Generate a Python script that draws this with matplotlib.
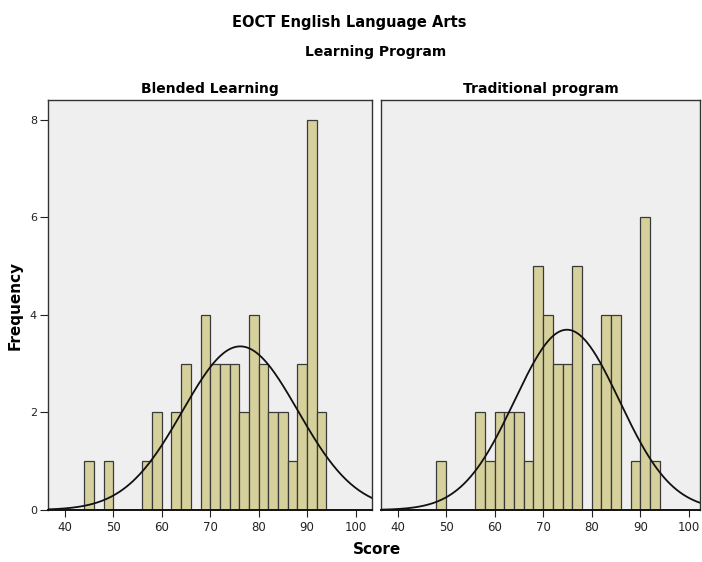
import numpy as np
import matplotlib
matplotlib.use('Agg')
import matplotlib.pyplot as plt

# bins are 2 points wide, left edges
blended_edges = [44, 48, 56, 58, 62, 64, 68, 70, 72, 74, 76, 78, 80, 82, 84, 86, 88, 90, 92]
blended_counts = [1, 1, 1, 2, 2, 3, 4, 3, 3, 3, 2, 4, 3, 2, 2, 1, 3, 8, 2]

trad_edges = [48, 56, 58, 60, 62, 64, 66, 68, 70, 72, 74, 76, 80, 82, 84, 88, 90, 92]
trad_counts = [1, 2, 1, 2, 2, 2, 1, 5, 4, 3, 3, 5, 3, 4, 4, 1, 6, 1]

# normal curve params (mean, sd, N)
blended_fit = (76.2, 11.9, 50)
trad_fit = (74.9, 10.8, 50)

bin_w = 2
bar_col = '#d5d09c'
bg_col = '#efefef'

fig = plt.figure(figsize=(7.02, 5.62), dpi=100)
ax1 = fig.add_axes([48/702, 1-510/562, 324/702, 410/562])
ax2 = fig.add_axes([381/702, 1-510/562, 319/702, 410/562])

panels = [(ax1, blended_edges, blended_counts, blended_fit, 'Blended Learning', (36.5, 103.4)),
          (ax2, trad_edges, trad_counts, trad_fit, 'Traditional program', (36.6, 102.3))]

for ax, edges, counts, fit, name, xl in panels:
    ax.set_facecolor(bg_col)
    ax.bar(edges, counts, width=bin_w, align='edge', color=bar_col,
           edgecolor='#3a3a3a', linewidth=0.9, zorder=2)
    m, s, n = fit
    xs = np.linspace(xl[0], xl[1], 300)
    ys = n * bin_w / (s * np.sqrt(2 * np.pi)) * np.exp(-0.5 * ((xs - m) / s) ** 2)
    ax.plot(xs, ys, color='#111111', lw=1.3, zorder=3)
    ax.set_xlim(*xl)
    ax.set_ylim(0, 8.4)
    ax.set_xticks([40, 50, 60, 70, 80, 90, 100])
    ax.tick_params(axis='x', labelsize=8.5, colors='#222222', length=5, pad=3)
    ax.set_title(name, fontsize=10, fontweight='bold', pad=5)
    for sp in ax.spines.values():
        sp.set_color('#333333')
        sp.set_linewidth(1.0)
    ax.spines['bottom'].set_color('#111111')
    ax.spines['bottom'].set_linewidth(1.4)

ax1.set_yticks([0, 2, 4, 6, 8])
ax1.tick_params(axis='y', labelsize=8, colors='#222222', length=6, pad=2)
ax2.set_yticks([])

fig.text(0.497, 1 - 22/562, 'EOCT English Language Arts', ha='center', va='center',
         fontsize=10.5, fontweight='bold')
fig.text(0.535, 1 - 52/562, 'Learning Program', ha='center', va='center',
         fontsize=10, fontweight='bold')
fig.text(377/702, 1 - 550/562, 'Score', ha='center', va='center',
         fontsize=11, fontweight='bold')
fig.text(15/702, 1 - 305/562, 'Frequency', ha='center', va='center', rotation=90,
         fontsize=11, fontweight='bold')

fig.savefig('out.png', dpi=100)
